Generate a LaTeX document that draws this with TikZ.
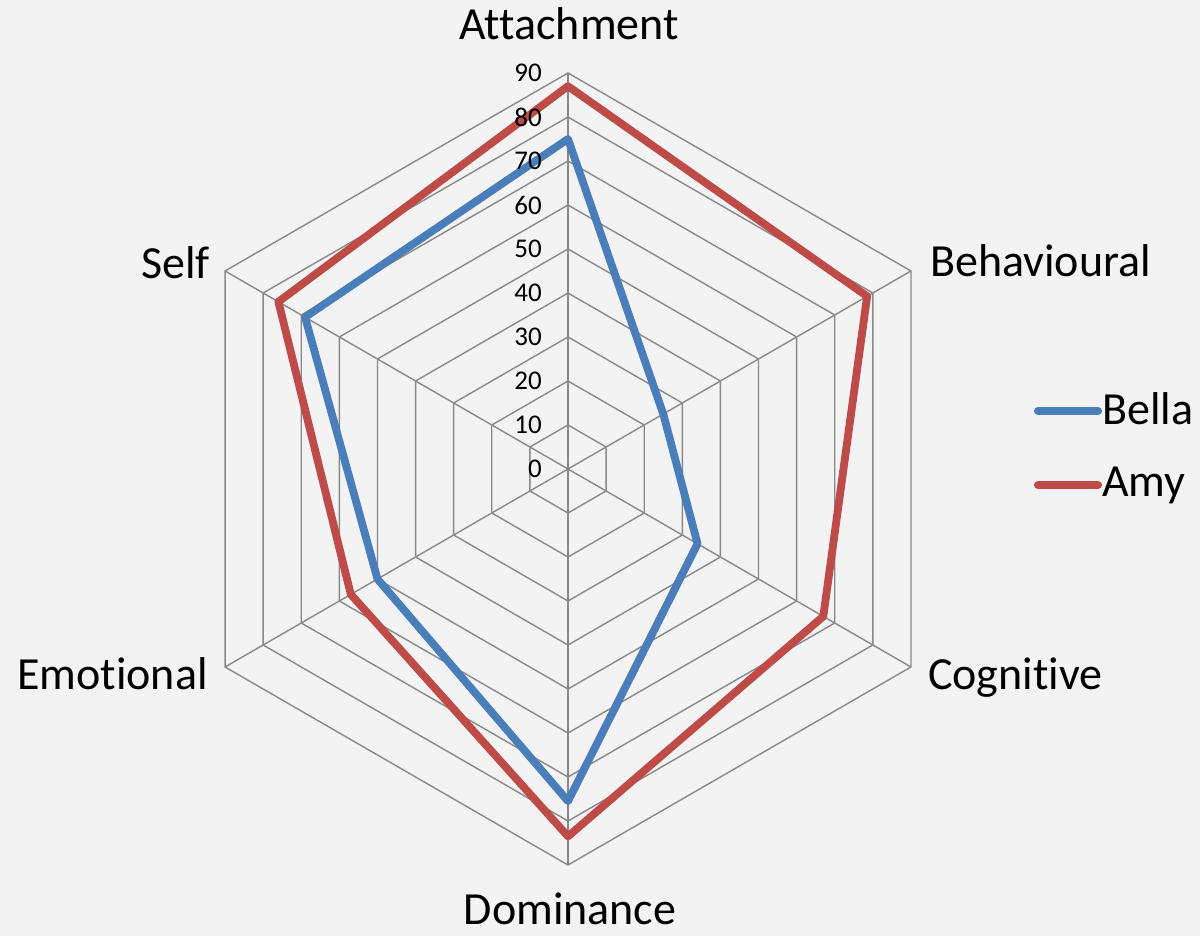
\documentclass[tikz,border=0pt]{standalone}
\usepackage{fontspec}
\setmainfont{Carlito}[Ligatures={NoCommon,NoRequired,NoContextual},RawFeature={-liga;-clig;-calt;-dlig}]
\definecolor{bellablue}{HTML}{4A7EBB}
\definecolor{amyred}{HTML}{BE4B48}
\definecolor{gridgray}{HTML}{898989}
\definecolor{bgcol}{HTML}{F3F3F3}
\begin{document}
\begin{tikzpicture}[x=1pt,y=1pt,
 gridline/.style={draw=gridgray, line width=1.4pt},
 series/.style={line width=7.8pt, line join=round},
 axislabel/.style={font=\fontsize{46}{50}\selectfont, inner sep=0pt},
 ticklabel/.style={font=\fontsize{27}{29}\selectfont, anchor=east, inner sep=0pt},
 legendline/.style={line width=8pt, line cap=round}]
\fill[bgcol] (0,0) rectangle (1200,936);
\useasboundingbox (0,0) rectangle (1200,936);
\begin{scope}[shift={(568,467)}]
\coordinate (c) at (0,0);
\foreach \k in {1,...,9}{
 \pgfmathsetmacro\r{44*\k}
 \draw[gridline] (90:\r) -- (30:\r) -- (-30:\r) -- (-90:\r) -- (-150:\r) -- (150:\r) -- cycle;
}
\foreach \a in {90,30,-30,-90,-150,150} \draw[gridline] (c) -- (\a:396);
% Bella
\coordinate (b1) at (90:330);
\coordinate (b2) at (30:110);
\coordinate (b3) at (-30:149.6);
\coordinate (b4) at (-90:332.2);
\coordinate (b5) at (-150:220);
\coordinate (b6) at (150:303.6);
% Amy
\coordinate (a1) at (90:382.8);
\coordinate (a2) at (30:345.4);
\coordinate (a3) at (-30:294.8);
\coordinate (a4) at (-90:367.4);
\coordinate (a5) at (-150:250.8);
\coordinate (a6) at (150:334.4);
\draw[series, amyred] (a1) -- (a2) -- (a3) -- (a4) -- (a5) -- (a6) -- cycle;
\draw[series, bellablue] (b1) -- (b2) -- (b3) -- (b4) -- (b5) -- (b6) -- cycle;
\foreach \k in {0,...,9}{
 \pgfmathtruncatemacro\v{10*\k}
 \pgfmathsetmacro\yy{44*\k}
 \node[ticklabel] (t\k) at (-26,\yy) {\v};
}
\end{scope}
% axis labels
\node[axislabel, anchor=base] (lAtt) at (569,896) {Attachment};
\node[axislabel, anchor=base west] (lBeh) at (930,659) {Behavioural};
\node[axislabel, anchor=base west] (lCog) at (928,246) {Cognitive};
\node[axislabel, anchor=base, text depth=0pt] (lDom) at (570,11) {Dominance};
\node[axislabel, anchor=base east] (lEmo) at (208,246) {Emotional};
\node[axislabel, anchor=base east] (lSelf) at (210,657) {Self};
% legend
\coordinate (lb1) at (1038,525);
\coordinate (lb2) at (1098,525);
\coordinate (la1) at (1038,451);
\coordinate (la2) at (1098,451);
\draw[legendline, bellablue] (lb1) -- (lb2);
\draw[legendline, amyred] (la1) -- (la2);
\node[axislabel, anchor=base west] (legB) at (1102,511) {Bella};
\node[axislabel, anchor=base west] (legA) at (1102,439) {Amy};
\end{tikzpicture}
\end{document}
